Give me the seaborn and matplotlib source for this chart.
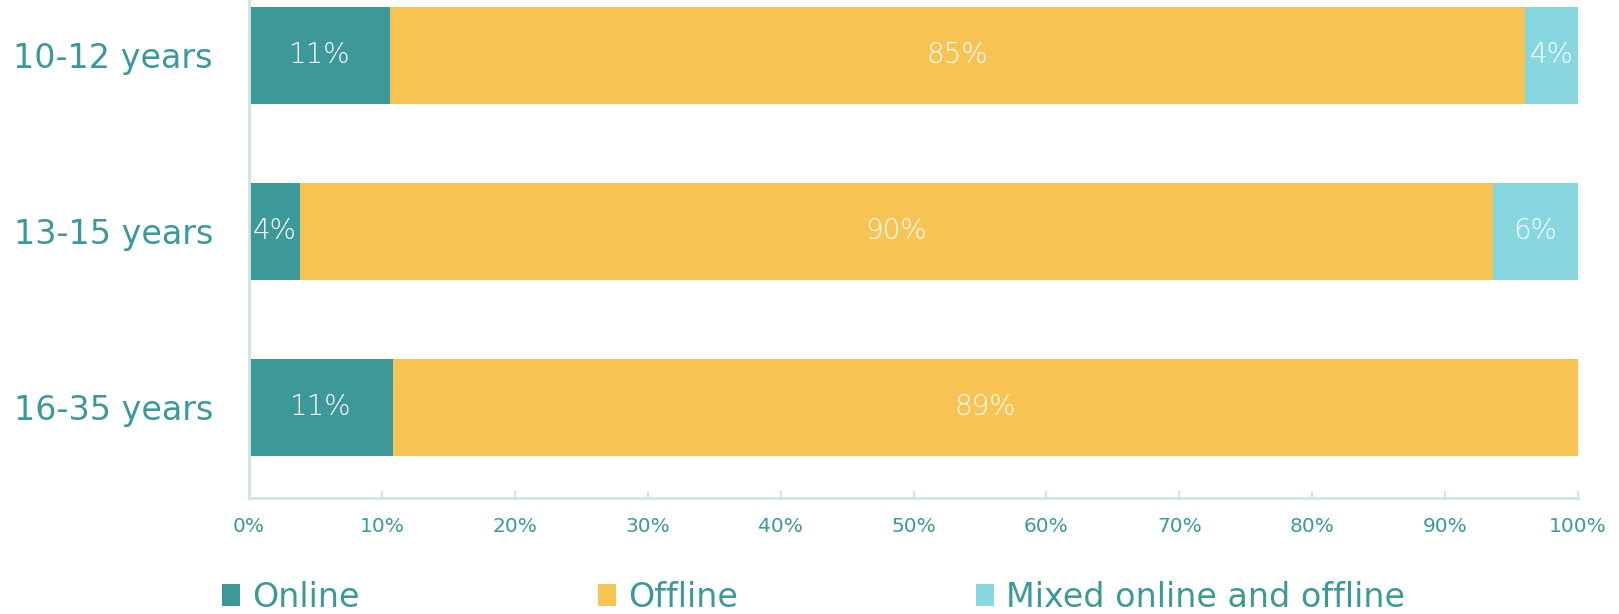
import matplotlib
matplotlib.use("Agg")
import matplotlib.pyplot as plt
from matplotlib.patches import Patch
from matplotlib.ticker import PercentFormatter
import seaborn as sns
import pandas as pd

# data (percent of respondents)
groups = ['10-12 years', '13-15 years', '16-35 years']
online = [10.6, 3.8, 10.8]
offline = [85.4, 89.8, 89.2]
mixed = [4.0, 6.4, 0.0]
series_names = ['Online', 'Offline', 'Mixed online and offline']
colors = ['#3d9999', '#f7c353', '#86d7df']
text_color = '#3d9999'
axis_color = '#cfe4e6'

sns.set_theme(style='white')
plt.rcParams['font.family'] = ['DejaVu Sans']

df = pd.DataFrame({'group': groups, 'Online': online, 'Offline': offline,
                   'Mixed online and offline': mixed})
# cumulative ends so the bars can be drawn on top of each other
df['cum_online'] = df['Online']
df['cum_offline'] = df['cum_online'] + df['Offline']
df['cum_mixed'] = df['cum_offline'] + df['Mixed online and offline']

fig = plt.figure(figsize=(16.19, 6.14), dpi=100)
ax = fig.add_axes([0.1538, 0.189, 0.8209, 0.811])

for col, c in zip(['cum_mixed', 'cum_offline', 'cum_online'], colors[::-1]):
    sns.barplot(data=df, y='group', x=col, color=c, orient='h', width=0.55,
                saturation=1, ax=ax, linewidth=0)

# value labels in the middle of each segment
for i, row in df.iterrows():
    start = 0
    for name in series_names:
        v = row[name]
        if v > 0:
            ax.text(start + v / 2, i, f'{v:.0f}%', ha='center', va='center',
                    color='white', fontsize=20, fontweight='light')
        start += v

ax.set_xlim(0, 100)
ax.set_ylim(2.514, -0.315)
ax.set_xticks(range(0, 101, 10))
ax.xaxis.set_major_formatter(PercentFormatter(decimals=0))
ax.set_xlabel('')
ax.set_ylabel('')

for s in ['top', 'right']:
    ax.spines[s].set_visible(False)
for s in ['left', 'bottom']:
    ax.spines[s].set_color(axis_color)
    ax.spines[s].set_linewidth(2)

ax.tick_params(axis='x', direction='in', length=5, width=1.5, color=axis_color,
               labelsize=14.5, labelcolor=text_color, pad=14, bottom=True)
ax.tick_params(axis='y', length=0, labelsize=24, labelcolor=text_color, pad=26)

handles = [Patch(facecolor=c, edgecolor='none') for c in colors]
fig.legend(handles, series_names, loc='lower left', ncol=3,
           bbox_to_anchor=(0.137, 0.0), frameon=False, fontsize=24,
           labelcolor=text_color, handlelength=0.55, handleheight=0.65,
           handletextpad=0.35, columnspacing=7.15, borderpad=0, borderaxespad=0)

fig.savefig('out.png', dpi=100)
